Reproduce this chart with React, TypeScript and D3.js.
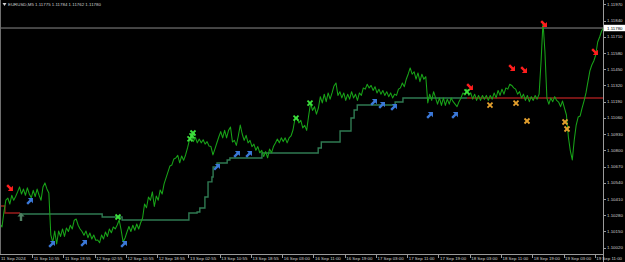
import React from 'react';
import * as d3 from 'd3';

// ---------- data ----------
const symbolName = 'EURUSD,M5';
const headerQuotes = ['1.11775', '1.11784', '1.11762', '1.11780'];
const currentPrice = 1.1178;

const priceTicks = [
  1.1197, 1.1184, 1.1171, 1.1158, 1.1145, 1.1132, 1.1119, 1.1106,
  1.1093, 1.108, 1.1067, 1.1054, 1.1041, 1.1028, 1.1015, 1.1002,
];

// time labels, one every 8 hours of trading time (hour offset = index * 8)
const timeLabels = [
  '11 Sep 2024', '11 Sep 10:55', '11 Sep 18:55', '12 Sep 02:55', '12 Sep 10:55',
  '12 Sep 18:55', '13 Sep 02:55', '13 Sep 10:55', '13 Sep 18:55', '16 Sep 03:00',
  '16 Sep 11:00', '16 Sep 19:00', '17 Sep 03:00', '17 Sep 11:00', '17 Sep 19:00',
  '18 Sep 03:00', '18 Sep 11:00', '18 Sep 19:00', '19 Sep 03:00', '19 Sep 11:00',
];
const labelStepHours = 8;

// close prices sampled every 30 minutes (trading-time hours from first label)
const closeStartHour = -0.25;
const closeStepHours = 0.5;
const closes = [
  1.10210, 1.10186, 1.10306, 1.10402, 1.10418, 1.10370, 1.10440, 1.10400, 1.10430, 1.10467,
  1.10507, 1.10450, 1.10490, 1.10440, 1.10500, 1.10450, 1.10420, 1.10480, 1.10430, 1.10490,
  1.10440, 1.10400, 1.10507, 1.10539, 1.10491, 1.10459, 1.10122, 1.10060, 1.10154, 1.10050,
  1.10154, 1.10110, 1.10170, 1.10110, 1.10178, 1.10150, 1.10200, 1.10170, 1.10240, 1.10250,
  1.10200, 1.10170, 1.10150, 1.10120, 1.10154, 1.10100, 1.10138, 1.10090, 1.10122, 1.10080,
  1.10082, 1.10060, 1.10122, 1.10090, 1.10146, 1.10110, 1.10170, 1.10140, 1.10186, 1.10170,
  1.10202, 1.10242, 1.10162, 1.10066, 1.10098, 1.10146, 1.10190, 1.10150, 1.10200, 1.10160,
  1.10210, 1.10170, 1.10220, 1.10258, 1.10370, 1.10340, 1.10426, 1.10400, 1.10467, 1.10350,
  1.10434, 1.10400, 1.10483, 1.10450, 1.10531, 1.10579, 1.10627, 1.10675, 1.10683, 1.10731,
  1.10739, 1.10760, 1.10700, 1.10755, 1.10720, 1.10763, 1.10819, 1.10883, 1.10923, 1.10870,
  1.10905, 1.10860, 1.10890, 1.10860, 1.10885, 1.10850, 1.10870, 1.10835, 1.10830, 1.10763,
  1.10810, 1.10859, 1.10907, 1.10950, 1.10900, 1.10960, 1.10900, 1.10960, 1.10987, 1.10867,
  1.10880, 1.10840, 1.10915, 1.11003, 1.10931, 1.10880, 1.10920, 1.10860, 1.10880, 1.10830,
  1.10850, 1.10800, 1.10830, 1.10780, 1.10800, 1.10750, 1.10790, 1.10740, 1.10810, 1.10780,
  1.10830, 1.10859, 1.10890, 1.10860, 1.10900, 1.10870, 1.10900, 1.10860, 1.10899, 1.10915,
  1.10963, 1.11051, 1.11067, 1.11020, 1.11040, 1.10980, 1.11000, 1.10960, 1.11075, 1.11179,
  1.11120, 1.11150, 1.11090, 1.11139, 1.11230, 1.11180, 1.11250, 1.11190, 1.11260, 1.11210,
  1.11260, 1.11316, 1.11340, 1.11240, 1.11270, 1.11220, 1.11260, 1.11200, 1.11250, 1.11210,
  1.11270, 1.11220, 1.11250, 1.11200, 1.11260, 1.11240, 1.11300, 1.11290, 1.11330, 1.11300,
  1.11320, 1.11280, 1.11310, 1.11260, 1.11290, 1.11250, 1.11280, 1.11240, 1.11270, 1.11230,
  1.11260, 1.11220, 1.11250, 1.11240, 1.11290, 1.11300, 1.11340, 1.11310, 1.11370, 1.11412,
  1.11460, 1.11410, 1.11430, 1.11370, 1.11420, 1.11350, 1.11410, 1.11370, 1.11390, 1.11180,
  1.11250, 1.11200, 1.11270, 1.11220, 1.11170, 1.11220, 1.11160, 1.11220, 1.11160, 1.11210,
  1.11170, 1.11220, 1.11190, 1.11170, 1.11150, 1.11190, 1.11219, 1.11260, 1.11243, 1.11290,
  1.11240, 1.11260, 1.11210, 1.11250, 1.11200, 1.11240, 1.11200, 1.11240, 1.11210, 1.11240,
  1.11200, 1.11240, 1.11210, 1.11260, 1.11220, 1.11280, 1.11240, 1.11290, 1.11250, 1.11300,
  1.11290, 1.11330, 1.11320, 1.11300, 1.11290, 1.11250, 1.11270, 1.11220, 1.11250, 1.11200,
  1.11240, 1.11190, 1.11230, 1.11200, 1.11240, 1.11210, 1.11250, 1.11508, 1.11828, 1.11588,
  1.11219, 1.11170, 1.11220, 1.11190, 1.11230, 1.11200, 1.11187, 1.11150, 1.11195, 1.11139,
  1.11083, 1.10907, 1.10795, 1.10723, 1.10883, 1.11003, 1.11067, 1.11075, 1.11139, 1.11195,
  1.11260, 1.11348, 1.11436, 1.11484, 1.11516, 1.11564, 1.11668, 1.11708, 1.11756, 1.11780,
];

// trailing stop level: start hour, level, side
const stopHours = [
  -0.25, 1.0, 4.9, 25.9, 31.0, 48.1, 50.2, 50.9, 52.2, 53.0, 54.0, 54.3, 55.3, 57.9, 58.6,
  66.8, 81.2, 82.0, 86.8, 89.6, 90.4, 91.2, 100.9, 102.9, 119.3,
];
const stopLevels = [
  1.10354, 1.10298, 1.10290, 1.10266, 1.10242, 1.10298, 1.10306, 1.10338, 1.10426, 1.10547,
  1.10587, 1.10667, 1.10699, 1.10723, 1.10739, 1.10779, 1.10819, 1.10867, 1.10955, 1.11059,
  1.11123, 1.11163, 1.11187, 1.11219, 1.11219,
];
const stopSides = [
  'sell', 'sell', 'buy', 'buy', 'buy', 'buy', 'buy', 'buy', 'buy', 'buy', 'buy', 'buy', 'buy',
  'buy', 'buy', 'buy', 'buy', 'buy', 'buy', 'buy', 'buy', 'buy', 'buy', 'buy', 'sell',
];
const stopEndHour = 154.3;

// signals [hour, price]
const buyArrowHours = [7.42, 13.06, 21.25, 31.49, 55.3, 60.42, 63.49, 95.49, 97.54, 100.61, 109.82, 116.22];
const buyArrowPrices = [1.10394, 1.1005, 1.10058, 1.1005, 1.10667, 1.10771, 1.10771, 1.11187, 1.11163, 1.11147, 1.11083, 1.11083];
const sellArrowHours = [2.3, 120.06, 130.82, 133.89, 139.01, 152.06];
const sellArrowPrices = [1.10499, 1.11308, 1.1146, 1.11444, 1.11812, 1.11588];
const buyCloseHours = [29.95, 48.38, 48.9, 49.15, 75.52, 79.1, 119.3];
const buyClosePrices = [1.10266, 1.10891, 1.10915, 1.10939, 1.11059, 1.11179, 1.11268];
const sellCloseHours = [125.18, 131.84, 134.66, 144.38, 144.9];
const sellClosePrices = [1.11163, 1.11179, 1.11035, 1.11027, 1.10971];
const stopStartHours = [5.12];
const stopStartPrices = [1.10266];

// ---------- chart ----------
const W = 625;
const H = 262;
const PLOT_R = 603;
const PLOT_B = 254;
const FONT = '"Liberation Sans", Arial, sans-serif';

const arrowPath = 'M-4,-1.2 L0.6,-1.2 L0.6,-3.6 L4.2,0 L0.6,3.6 L0.6,1.2 L-4,1.2 Z';

export default function App() {
  const x = d3
    .scaleLinear()
    .domain([0, labelStepHours * (timeLabels.length - 1)])
    .range([1, 1 + 31.25 * (timeLabels.length - 1)]);
  const y = d3.scaleLinear().domain([1.1002, 1.1197]).range([247.7, 4.3]);

  const closePts: [number, number][] = closes.map((c, i) => [closeStartHour + i * closeStepHours, c]);
  const line = d3
    .line<[number, number]>()
    .x((d) => x(d[0]))
    .y((d) => y(d[1]));
  const stepLine = d3
    .line<[number, number]>()
    .x((d) => x(d[0]))
    .y((d) => y(d[1]))
    .curve(d3.curveStepAfter);

  // group the trailing stop by side
  const groups: { side: string; pts: [number, number][] }[] = [];
  stopHours.forEach((h, i) => {
    const side = stopSides[i];
    const last = groups[groups.length - 1];
    if (!last || last.side !== side) {
      const pts: [number, number][] = [];
      if (last) {
        const prevLevel = last.pts[last.pts.length - 1][1];
        last.pts.push([h, prevLevel]);
        pts.push([h, prevLevel]);
      }
      pts.push([h, stopLevels[i]]);
      groups.push({ side, pts });
    } else {
      last.pts.push([h, stopLevels[i]]);
    }
  });
  const lastG = groups[groups.length - 1];
  lastG.pts.push([stopEndHour, lastG.pts[lastG.pts.length - 1][1]]);

  const curY = y(currentPrice);

  return (
    <svg
      width={W}
      height={H}
      style={{ position: 'absolute', left: 0, top: 0, display: 'block', background: '#000' }}
      fontFamily={FONT}
    >
      <rect x={0} y={0} width={W} height={H} fill="#000" />
      <defs>
        <clipPath id="plot">
          <rect x={0} y={0} width={PLOT_R} height={PLOT_B} />
        </clipPath>
      </defs>

      {/* current price line */}
      <line x1={0} x2={PLOT_R} y1={curY} y2={curY} stroke="#8a8a8a" strokeWidth={1} />

      <g clipPath="url(#plot)">
        {groups.map((g, i) => (
          <path
            key={i}
            d={stepLine(g.pts) || ''}
            fill="none"
            stroke={g.side === 'buy' ? '#2f7a52' : '#9c1c1c'}
            strokeWidth={1.4}
          />
        ))}
        <path d={line(closePts) || ''} fill="none" stroke="#18a418" strokeWidth={1.05} strokeLinejoin="round" />

        {stopStartHours.map((h, i) => (
          <g key={'ss' + i} transform={`translate(${x(h)},${y(stopStartPrices[i])}) rotate(-90)`}>
            <path d={arrowPath} fill="#4f7f62" />
          </g>
        ))}
        {buyArrowHours.map((h, i) => (
          <g key={'ba' + i} transform={`translate(${x(h)},${y(buyArrowPrices[i])}) rotate(-45)`}>
            <path d={arrowPath} fill="#3b78d8" />
          </g>
        ))}
        {sellArrowHours.map((h, i) => (
          <g key={'sa' + i} transform={`translate(${x(h)},${y(sellArrowPrices[i])}) rotate(45)`}>
            <path d={arrowPath} fill="#ff1e1e" />
          </g>
        ))}
        {buyCloseHours.map((h, i) => (
          <g key={'bc' + i} transform={`translate(${x(h)},${y(buyClosePrices[i])})`} stroke="#3de03d" strokeWidth={1.8}>
            <line x1={-2.5} y1={-2.5} x2={2.5} y2={2.5} />
            <line x1={-2.5} y1={2.5} x2={2.5} y2={-2.5} />
          </g>
        ))}
        {sellCloseHours.map((h, i) => (
          <g key={'sc' + i} transform={`translate(${x(h)},${y(sellClosePrices[i])})`} stroke="#e5a12e" strokeWidth={1.8}>
            <line x1={-2.5} y1={-2.5} x2={2.5} y2={2.5} />
            <line x1={-2.5} y1={2.5} x2={2.5} y2={-2.5} />
          </g>
        ))}
      </g>

      {/* frame / axes */}
      <line x1={0.5} x2={0.5} y1={0} y2={PLOT_B} stroke="#6e6e6e" />
      <line x1={PLOT_R + 0.5} x2={PLOT_R + 0.5} y1={0} y2={H} stroke="#9a9a9a" />
      <line x1={0} x2={PLOT_R + 0.5} y1={PLOT_B + 0.5} y2={PLOT_B + 0.5} stroke="#9a9a9a" />

      {/* price axis */}
      {priceTicks.map((p) => (
        <g key={p}>
          <line x1={PLOT_R} x2={PLOT_R + 3} y1={Math.round(y(p)) + 0.5} y2={Math.round(y(p)) + 0.5} stroke="#9a9a9a" />
          <text x={PLOT_R + 4} y={y(p)} dy="0.35em" fontSize={4.4} fill="#d0d0d0">
            {p.toFixed(5)}
          </text>
        </g>
      ))}
      <rect x={PLOT_R + 1} y={curY - 3.2} width={W - PLOT_R - 1} height={6.4} fill="#ffffff" />
      <text x={PLOT_R + 4} y={curY} dy="0.35em" fontSize={4.4} fill="#000">
        {currentPrice.toFixed(5)}
      </text>

      {/* time axis */}
      {timeLabels.map((t, i) => {
        const xp = x(i * labelStepHours);
        return (
          <g key={t}>
            {i > 0 && (
              <line x1={Math.round(xp) + 0.5} x2={Math.round(xp) + 0.5} y1={PLOT_B} y2={PLOT_B + 4} stroke="#9a9a9a" />
            )}
            <text x={xp + (i > 0 ? 1.5 : 0)} y={PLOT_B + 4.3} dy="0.35em" fontSize={4.4} fill="#d0d0d0">
              {t}
            </text>
          </g>
        );
      })}

      {/* header */}
      <path d="M2.5,3 L6.5,3 L4.5,6 Z" fill="#d0d0d0" />
      <text x={8} y={4.7} dy="0.35em" fontSize={4.4} fill="#d0d0d0">
        {symbolName + '  ' + headerQuotes.join(' ')}
      </text>
    </svg>
  );
}
